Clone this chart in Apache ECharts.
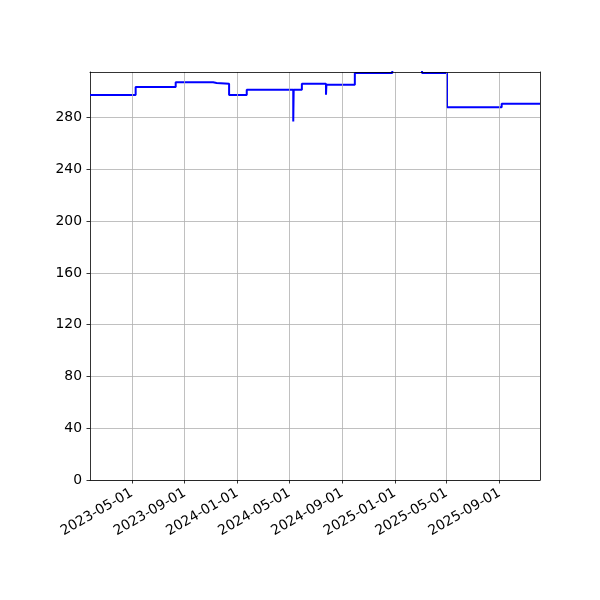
<!DOCTYPE html>
<html>
<head>
<meta charset="utf-8">
<script src="https://cdn.jsdelivr.net/npm/echarts@6/dist/echarts.min.js"></script>
<style>html,body{margin:0;padding:0;background:#fff}#c{width:600px;height:600px}</style>
</head>
<body>
<div id="c"></div>
<script>
var dates = ['2023-01-24','2023-05-10','2023-08-11','2023-11-06','2023-11-14','2023-12-13','2024-01-23',
  '2024-05-10','2024-05-11','2024-05-30','2024-07-25','2024-07-26','2024-09-30','2024-10-05','2024-10-06',
  '2024-11-08','2024-11-09','2024-12-26','2025-03-05','2025-05-02','2025-09-06','2025-12-04'];
var values = [297.5,303.7,307.3,306.8,306.3,297.5,301.6,
  277.1,301.6,306.3,297.8,305.5,314.6,313.2,314.6,
  313.5,314.6,318,314.6,288.0,290.8,290.8];
var tickDates = ['2023-05-01','2023-09-01','2024-01-01','2024-05-01','2024-09-01','2025-01-01','2025-05-01','2025-09-01'];
var yTicks = [0,40,80,120,160,200,240,280];

function ts(s){ return new Date(s + 'T00:00:00').getTime(); }
function pad(n){ return (n < 10 ? '0' : '') + n; }
function fmt(v){ var d = new Date(v); return d.getFullYear() + '-' + pad(d.getMonth()+1) + '-' + pad(d.getDate()); }

var xMin = ts('2023-01-24'), xMax = ts('2025-12-04');
var yMax = 315.3;
var font = 'DejaVu Sans';
var chart = echarts.init(document.getElementById('c'), null, {renderer: 'canvas'});
chart.setOption({
  animation: false,
  backgroundColor: '#fff',
  grid: {left: 90, right: 60, top: 72, bottom: 120, containLabel: false},
  xAxis: [{
    type: 'value', min: xMin, max: xMax, z: 5, scale: true,
    axisLine: {show: true, onZero: false, lineStyle: {color: '#000', width: 0.8}},
    axisTick: {show: true, length: 3.5, lineStyle: {color: '#000', width: 0.8}, customValues: tickDates.map(ts)},
    axisLabel: {show: true, rotate: 30, margin: 12, color: '#000', fontFamily: font, fontSize: 13.9,
      customValues: tickDates.map(ts), formatter: fmt, hideOverlap: false},
    splitLine: {show: true, lineStyle: {color: '#b0b0b0', width: 0.8}}
  }, {
    type: 'value', position: 'top', min: xMin, max: xMax, z: 10, scale: true,
    axisLine: {show: true, onZero: false, lineStyle: {color: '#000', width: 0.8}},
    axisTick: {show: false}, axisLabel: {show: false}, splitLine: {show: false}
  }],
  yAxis: [{
    type: 'value', min: 0, max: yMax, interval: 40, z: 2,
    axisLine: {show: true, onZero: false, lineStyle: {color: '#000', width: 0.8}},
    axisTick: {show: true, length: 3.5, lineStyle: {color: '#000', width: 0.8}, customValues: yTicks},
    axisLabel: {show: true, margin: 8, color: '#000', fontFamily: font, fontSize: 13.9, customValues: yTicks},
    splitLine: {show: true, lineStyle: {color: '#b0b0b0', width: 0.8}}
  }, {
    type: 'value', position: 'right', min: 0, max: yMax, z: 10,
    axisLine: {show: true, onZero: false, lineStyle: {color: '#000', width: 0.8}},
    axisTick: {show: false}, axisLabel: {show: false}, splitLine: {show: false}
  }],
  series: [{
    type: 'line', step: 'end', showSymbol: false, clip: true, z: 3,
    lineStyle: {color: '#0000ff', width: 2},
    data: dates.map(function(d, i){ return [ts(d), values[i]]; })
  }]
});
</script>
</body>
</html>
